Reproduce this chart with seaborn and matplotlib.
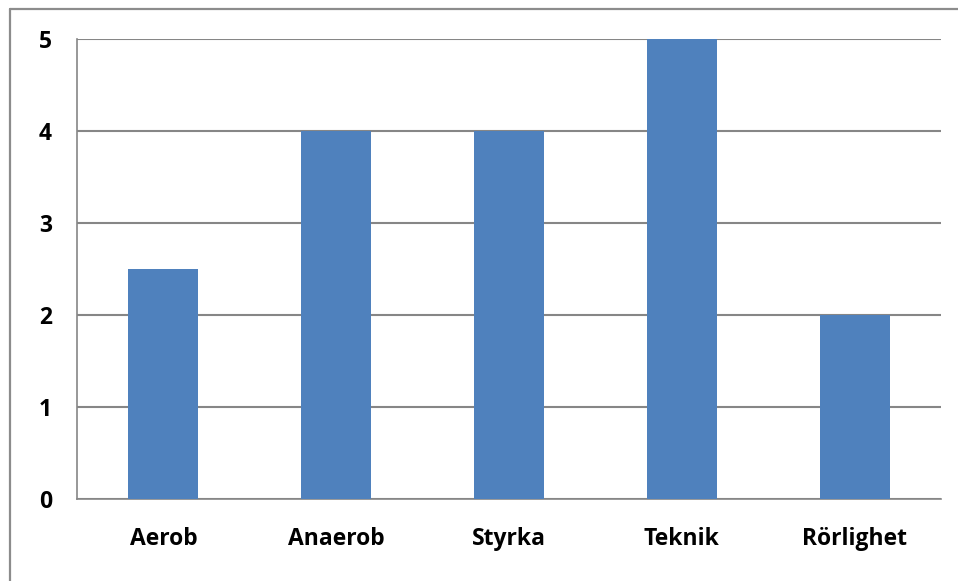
import matplotlib
matplotlib.use("Agg")
import matplotlib.pyplot as plt
from matplotlib.lines import Line2D
from matplotlib.ticker import FixedLocator
import seaborn as sns
import pandas as pd

categories = ["Aerob", "Anaerob", "Styrka", "Teknik", "Rörlighet"]
values = [2.5, 4, 4, 5, 2]
y_ticks = [0, 1, 2, 3, 4, 5]

sns.set_theme(style="white")
plt.rcParams["font.family"] = ["Open Sans", "DejaVu Sans"]

W, H = 958, 581
fig = plt.figure(figsize=(W / 100, H / 100), dpi=100)
ax = fig.add_axes([77 / W, (H - 499) / H, (941 - 77) / W, (499 - 39) / H])

df = pd.DataFrame({"kategori": categories, "värde": values})
sns.barplot(data=df, x="kategori", y="värde", color="#4F81BD", saturation=1,
            width=0.405, ax=ax, linewidth=0, zorder=3)

grid_c = "#868686"
label_size = 16.5
ax.set_xlim(-0.5, len(categories) - 0.5)
ax.set_ylim(0, 5)
ax.set_yticks(y_ticks)
ax.set_yticklabels([str(t) for t in y_ticks], fontweight="bold", fontsize=label_size)
ax.set_xticks(range(len(categories)))
ax.set_xticklabels(categories, fontweight="bold", fontsize=label_size)
ax.yaxis.grid(True, color=grid_c, linewidth=1.5, zorder=0)
ax.xaxis.grid(False)
ax.set_axisbelow(True)

for side in ("top", "right"):
    ax.spines[side].set_visible(False)
for side in ("left", "bottom"):
    ax.spines[side].set_color(grid_c)
    ax.spines[side].set_linewidth(1.2)

ax.tick_params(axis="y", which="major", length=6, width=1.2, color=grid_c,
               direction="out", pad=12, labelcolor="black")
ax.tick_params(axis="x", which="major", length=0, pad=20, labelcolor="black")
ax.xaxis.set_minor_locator(FixedLocator([i - 0.5 for i in range(len(categories) + 1)]))
ax.tick_params(axis="x", which="minor", length=5, width=1.2, color=grid_c,
               direction="out")

ax.set_xlabel("")
ax.set_ylabel("")

# outer chart frame
fig.add_artist(Line2D([10 / W, 1.0], [1 - 9 / H, 1 - 9 / H], transform=fig.transFigure,
                      color="#8C8C8C", linewidth=1.6))
fig.add_artist(Line2D([10 / W, 10 / W], [0.0, 1 - 9 / H], transform=fig.transFigure,
                      color="#8C8C8C", linewidth=1.6))

fig.savefig("out.png", dpi=100, facecolor="white")
